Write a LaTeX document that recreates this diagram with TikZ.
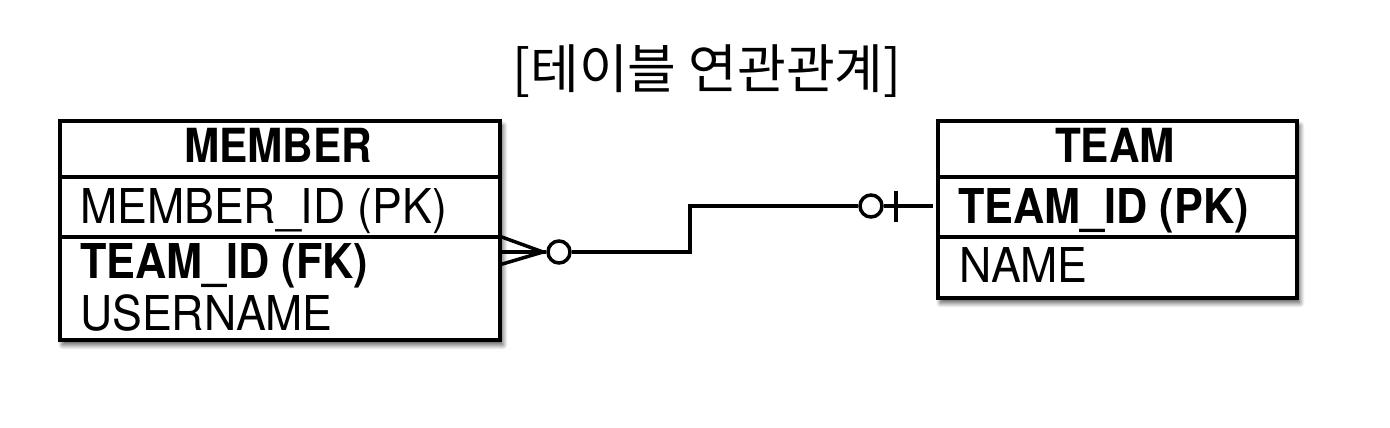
\documentclass[tikz,border=0pt]{standalone}
\usepackage{fontspec}
\usetikzlibrary{shadows.blur}
\newfontfamily\rowfont[FakeStretch=0.93]{TeX Gyre Heros}
\newfontfamily\boldrowfont[FakeStretch=0.9]{TeX Gyre Heros Bold}
\newfontfamily\krfont{Noto Sans CJK KR}
\begin{document}
\begin{tikzpicture}[x=1pt,y=-1pt,
  entity/.style={draw, line width=3.5pt, fill=white, inner sep=0pt, anchor=north west,
    blur shadow={shadow xshift=3pt, shadow yshift=-5pt, shadow blur radius=5pt, shadow blur steps=10, shadow opacity=70}},
  sepline/.style={line width=3.5pt},
  hdr/.style={anchor=base, inner sep=0pt, font=\boldrowfont\fontsize{47}{50}\selectfont},
  fieldr/.style={anchor=base west, inner sep=0pt, font=\rowfont\fontsize{48}{50}\selectfont},
  fieldb/.style={anchor=base west, inner sep=0pt, font=\boldrowfont\fontsize{48}{50}\selectfont},
  conn/.style={line width=3.5pt},
  ring/.style={circle, draw, line width=3.5pt, fill=white, minimum size=22pt, inner sep=0pt}]
\useasboundingbox (0,0) rectangle (1390,428);

\node[font=\krfont\fontsize{53}{56}\selectfont, inner sep=0pt] (title) at (707,71) {[테이블 연관관계]};

% MEMBER
\node[entity, minimum width=440pt, minimum height=219pt] (member) at (58,119) {};
\draw[sepline] ([yshift=-58pt]member.north west) -- ([yshift=-58pt]member.north east);
\draw[sepline] ([yshift=-118pt]member.north west) -- ([yshift=-118pt]member.north east);
\node[hdr] (mname) at (278,162) {MEMBER};
\node[fieldr] (mid) at (80,223) {MEMBER\_ID (PK)};
\node[fieldb] (mfk) at (80,278) {TEAM\_ID (FK)};
\node[fieldr] (muser) at (80,330) {USERNAME};

% TEAM
\node[entity, minimum width=359pt, minimum height=177pt] (team) at (936,119) {};
\draw[sepline] ([yshift=-58pt]team.north west) -- ([yshift=-58pt]team.north east);
\draw[sepline] ([yshift=-118pt]team.north west) -- ([yshift=-118pt]team.north east);
\node[hdr] (tname) at (1115,162) {TEAM};
\node[fieldb] (tid) at (958,223) {TEAM\_ID (PK)};
\node[fieldr] (tnm) at (959,282) {NAME};

% connector
\coordinate (mtop) at (499,236);
\coordinate (mmid) at (499,252);
\coordinate (mbot) at (499,265);
\coordinate (tip) at (543,252);
\node[ring] (c1) at (559,252) {};
\node[ring] (c2) at (871,206) {};
\coordinate (bend1) at (690,252);
\coordinate (bend2) at (690,206);
\coordinate (tend) at (933,206);
\coordinate (bartop) at (896,191);
\coordinate (barbot) at (896,222);

\draw[conn] (mtop) -- (tip);
\draw[conn] (mmid) -- (c1.west);
\draw[conn] (mbot) -- (tip);
\draw[conn] (c1.east) -- (bend1) -- (bend2) -- (c2.west);
\draw[conn] (c2.east) -- (tend);
\draw[conn] (bartop) -- (barbot);
\end{tikzpicture}
\end{document}
